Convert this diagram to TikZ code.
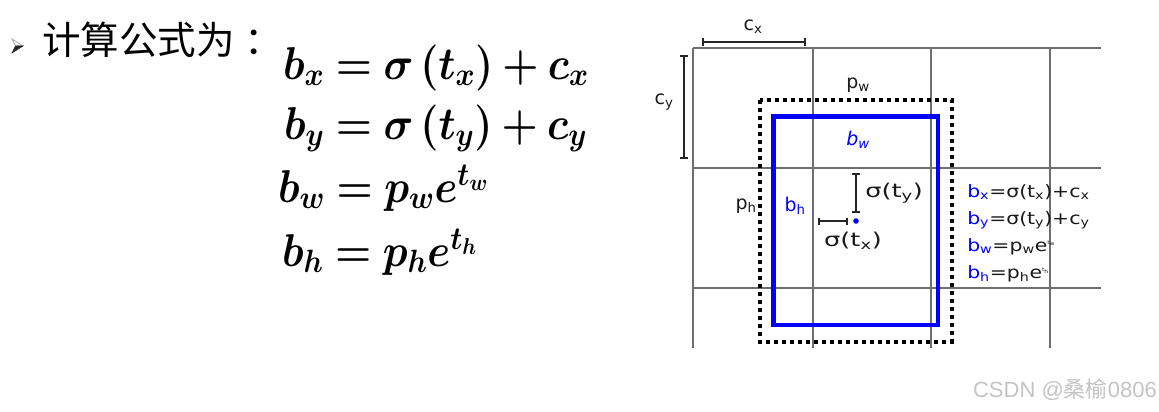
\RequirePackage{fix-cm}
\documentclass[tikz,border=0pt]{standalone}
\usepackage{fontspec}
\usepackage{bm}
\usetikzlibrary{arrows.meta}
\newfontfamily\cjk{Noto Sans CJK SC}
\newfontfamily\dv{DejaVu Sans}
\newfontfamily\lsans{Liberation Sans}
\definecolor{gridgray}{HTML}{6E6E6E}
\definecolor{bblue}{HTML}{0000FF}
\definecolor{wm}{HTML}{C4C4C4}
\newcommand{\sbs}[1]{\textsubscript{#1}}
\begin{document}
\begin{tikzpicture}[x=1pt,y=-1pt,
  gridline/.style={draw=gridgray, line width=1.2pt},
  dimline/.style={draw=black!85, line width=1.6pt, {Bar[width=8pt]}-{Bar[width=8pt]}},
  lbl/.style={font=\dv\fontsize{19}{22}\selectfont, inner sep=0pt, text=black!90},
  blbl/.style={lbl, text=bblue},
  slbl/.style={lbl, xscale=1.35},
  rform/.style={font=\dv\fontsize{17}{20}\selectfont, inner sep=0pt, anchor=base west, text=black!90, xscale=1.2},
  eq/.style={font=\fontsize{46}{50}\selectfont, inner sep=0pt, anchor=base west, xscale=0.9}]
\useasboundingbox[fill=white] (0,0) rectangle (1159,412);

% bullet and title
\path[fill=white, draw=gray!70, line width=0.7pt] (12,39) -- (23,46) -- (15.5,46) -- cycle;
\path[fill=black!85, draw=black!85, line width=0.5pt] (12,53) -- (23,46) -- (15.5,46) -- cycle;
\node[anchor=west, inner sep=0pt, font=\cjk\fontsize{38.5}{42}\selectfont] (title) at (42,40) {计算公式为\hspace{10pt}：};

% equations
\node[eq] (eqx) at (283,79) {$\bm{b_x = \sigma\,(t_x) + c_x}$};
\node[eq] (eqy) at (284,139) {$\bm{b_y = \sigma\,(t_y) + c_y}$};
\node[eq] (eqw) at (278,202) {$\bm{b_w = p_w e^{t_w}}$};
\node[eq] (eqh) at (282,266) {$\bm{b_h = p_h e^{t_h}}$};

% grid
\foreach \yy in {48,168,288} \draw[gridline] (693,\yy) -- (1101,\yy);
\foreach \xx in {693,813,931,1050} \draw[gridline] (\xx,48) -- (\xx,348);

% dimension lines
\coordinate (cx1) at (702,42); \coordinate (cx2) at (806,42);
\coordinate (cy1) at (684,55); \coordinate (cy2) at (684,159);
\coordinate (sy1) at (856,173); \coordinate (sy2) at (856,213);
\coordinate (sx1) at (818,221); \coordinate (sx2) at (848,221);
\draw[dimline] (cx1) -- (cx2);
\draw[dimline] (cy1) -- (cy2);
\draw[dimline] (sy1) -- (sy2);
\draw[dimline, {Bar[width=7pt]}-{Bar[width=7pt]}] (sx1) -- (sx2);

% boxes
\draw[line width=4pt, dash pattern=on 4pt off 4pt] (759.5,100) rectangle (951.5,341.5);
\draw[bblue, line width=4.2pt] (773.5,116.5) rectangle (938,325);
\fill[bblue] (856,221) circle (2.8pt);

% labels
\node[lbl] (lcx) at (753,27) {c\sbs{x}};
\node[lbl] (lcy) at (664,102) {c\sbs{y}};
\node[lbl] (lpw) at (858,85) {p\sbs{w}};
\node[blbl] (lbw) at (858,140) {\itshape b\sbs{w}};
\node[lbl] (lph) at (746,206) {p\sbs{h}};
\node[blbl] (lbh) at (795,206) {b\sbs{h}};
\node[slbl, anchor=west] (lsy) at (865,193) {σ(t\sbs{y})};
\node[slbl] (lsx) at (853,241) {σ(t\sbs{x})};

% right formulas
\node[rform] (fx) at (967,197) {\textcolor{bblue}{b\sbs{x}}=σ(t\sbs{x})+c\sbs{x}};
\node[rform] (fy) at (967,224) {\textcolor{bblue}{b\sbs{y}}=σ(t\sbs{y})+c\sbs{y}};
\node[rform] (fw) at (967,251) {\textcolor{bblue}{b\sbs{w}}=p\sbs{w}e\textsuperscript{\tiny t\textsubscript{w}}};
\node[rform] (fh) at (967,278) {\textcolor{bblue}{b\sbs{h}}=p\sbs{h}e\textsuperscript{\tiny t\textsubscript{h}}};

% watermark
\node[anchor=east, inner sep=0pt, text=wm, font=\lsans\fontsize{22}{25}\selectfont] (wmk) at (1157,390) {CSDN @{\cjk 桑榆}0806};
\end{tikzpicture}
\end{document}
